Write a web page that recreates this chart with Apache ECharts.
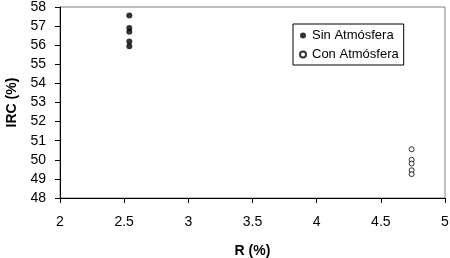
<!DOCTYPE html>
<html><head><meta charset="utf-8">
<script src="https://cdn.jsdelivr.net/npm/echarts@6/dist/echarts.min.js"></script>
<style>html,body{margin:0;padding:0;background:#fff}#c{width:450px;height:258px}</style>
</head><body><div id="c"></div>
<script>
const sinX = [2.54, 2.54, 2.54, 2.54, 2.54];
const sinY = [57.55, 56.9, 56.7, 56.2, 55.95];
const conX = [4.74, 4.74, 4.74, 4.74, 4.74];
const conY = [50.55, 50.0, 49.8, 49.45, 49.25];
const seriesNames = ['Sin Atmósfera', 'Con Atmósfera'];
const xTitle = 'R (%)';
const yTitle = 'IRC (%)';

const chart = echarts.init(document.getElementById('c'));
const font = 'Liberation Sans, Arial, sans-serif';
chart.setOption({
  animation: false,
  grid: {left: 60, right: 5, top: 7, bottom: 60, show: true, borderColor: '#808080', borderWidth: 1,
         containLabel: false, outerBoundsMode: 'none'},
  legend: {
    orient: 'vertical', left: 293, top: 24, padding: [5, 5, 4, 6], itemGap: 6,
    borderColor: '#000', borderWidth: 1, backgroundColor: '#fff',
    itemWidth: 6, itemHeight: 6, icon: 'circle',
    textStyle: {fontFamily: font, fontSize: 13, color: '#000', padding: [0,0,0,1]},
    data: seriesNames
  },
  xAxis: {
    type: 'value', min: 2, max: 5, interval: 0.5,
    name: xTitle, nameLocation: 'middle', nameGap: 46,
    nameTextStyle: {fontFamily: font, fontSize: 14, fontWeight: 'bold', color: '#000'},
    axisLine: {show: true, onZero: false, lineStyle: {color: '#000'}},
    axisTick: {show: true, length: 5, lineStyle: {color: '#000'}},
    axisLabel: {fontFamily: font, fontSize: 14, color: '#000', margin: 17},
    splitLine: {show: false}
  },
  yAxis: {
    type: 'value', min: 48, max: 58, interval: 1,
    name: yTitle, nameLocation: 'middle', nameGap: 40,
    nameTextStyle: {fontFamily: font, fontSize: 14, fontWeight: 'bold', color: '#000'},
    axisLine: {show: true, onZero: false, lineStyle: {color: '#000'}},
    axisTick: {show: true, length: 5, lineStyle: {color: '#000'}},
    axisLabel: {fontFamily: font, fontSize: 14, color: '#000', margin: 14},
    splitLine: {show: false}
  },
  series: [
    {name: seriesNames[0], type: 'scatter', symbol: 'circle', symbolSize: 6,
     itemStyle: {color: '#000', borderColor: '#000', borderWidth: 0},
     data: sinX.map((x, i) => [x, sinY[i]])},
    {name: seriesNames[1], type: 'scatter', symbol: 'circle', symbolSize: 5,
     itemStyle: {color: '#fff', borderColor: '#000', borderWidth: 1},
     data: conX.map((x, i) => [x, conY[i]])}
  ]
});
</script></body></html>
